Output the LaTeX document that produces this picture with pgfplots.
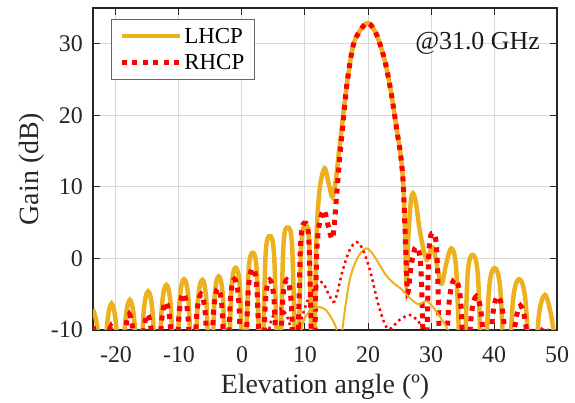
\documentclass[border=0pt]{standalone}
\usepackage{fontspec}
\setmainfont{Liberation Serif}
\usepackage{pgfplots}
\pgfplotsset{compat=1.18}
\definecolor{morange}{rgb}{0.929,0.694,0.125}
\definecolor{axgray}{rgb}{0.15,0.15,0.15}
\begin{document}
\begin{tikzpicture}
\begin{axis}[
  name=ax,
  scale only axis,
  width=464bp, height=322bp,
  xmin=-23.65, xmax=50, ymin=-10, ymax=35,
  xtick={-20,-10,0,10,20,30,40,50},
  ytick={-10,0,10,20,30},
  tick align=inside,
  major tick length=7bp,
  axis line style={draw=axgray, line width=1.2bp},
  every tick/.style={draw=axgray, line width=1bp},
  grid=major,
  major grid style={draw=gray!30, line width=1bp},
  /pgf/number format/assume math mode=true,
  ticklabel style={font=\fontsize{24}{26}\selectfont, text=black!85},
  xticklabel style={anchor=base, inner sep=0pt, yshift=-32bp},
  yticklabel style={anchor=east, inner sep=0pt, xshift=-10bp},
  every axis x label/.style={at={(rel axis cs:0.5,0)}, anchor=base, yshift=-63bp, font=\fontsize{28}{30}\selectfont, text=black!85},
  every axis y label/.style={at={(rel axis cs:0,0.5)}, anchor=center, rotate=90, yshift=61bp, font=\fontsize{28}{30}\selectfont, text=black!85},
  xlabel={Elevation angle (º)},
  ylabel={Gain (dB)},
  legend style={at={(0.0388,0.966)}, anchor=north west, draw=black!60, line width=0.8bp, fill=white,
    font=\fontsize{23}{25}\selectfont, inner xsep=8bp, inner ysep=6.5bp, row sep=6bp, cells={anchor=west}},
  legend image code/.code={\draw[#1] (0bp,0bp) -- (58bp,0bp);},
  legend cell align=left,
]
% LHCP thick
\addplot[morange, line width=4.5bp, smooth, tension=0.5] coordinates {
(-23.65,-7.1) (-22.9,-10.1) (-22.15,-20)
(-21.42,-9.3) (-20.7,-6.3) (-19.98,-9.3) (-19.25,-20)
(-18.52,-8.8) (-17.8,-5.8) (-17.08,-8.8) (-16.35,-20)
(-15.62,-7.6) (-14.9,-4.6) (-14.18,-7.6) (-13.45,-20)
(-12.72,-6.7) (-12.0,-3.7) (-11.3,-6.7) (-10.6,-20)
(-9.9,-5.9) (-9.2,-2.9) (-8.48,-5.9) (-7.75,-20)
(-7.0,-6.0) (-6.3,-3.0) (-5.65,-6.0) (-5.0,-20)
(-4.35,-5.5) (-3.7,-2.5) (-3.02,-5.5) (-2.35,-20)
(-1.68,-4.3) (-1.0,-1.3) (-0.32,-4.3) (0.35,-20)
(1.02,-2.2) (1.7,0.8) (2.38,-2.2) (3.05,-20)
(3.72,0.1) (4.4,3.1) (5.12,0.1) (5.85,-20)
(6.55,1.3) (7.25,4.3) (7.98,1.3) (8.7,-20)
(9.4,1.6) (10.1,4.6) (10.7,1.6) (11.3,-20)
(11.8,2) (12.3,9.5) (13.1,12.6) (13.8,10.3) (14.35,8.6) (14.9,11) (15.4,15) (15.8,17.9)
(16.6,24) (17.6,29.6) (18.7,31.8) (20,32.9) (21.3,31.4) (22.65,27.7) (23.7,23.0)
(24.6,17.8) (25.2,14.3) (25.6,10.3) (25.9,3.5) (26.1,-3.5) (26.4,3) (26.8,8) (27.15,9.1)
(27.6,7.8) (28.3,3.5) (29.3,-0.2) (30.3,1.5) (31.6,-3.5) (32.4,-0.8) (33.2,1.4) (34.0,-1.6) (35.0,-20)
(35.8,-2.5) (36.6,0.5) (37.45,-2.5) (38.3,-20)
(39.2,-4.35) (40.1,-1.35) (41.0,-4.35) (42.0,-20)
(43.0,-5.9) (44.0,-2.9) (45.0,-5.9) (46.1,-20)
(47.1,-8.1) (48.1,-5.1) (49.1,-8.1) (50,-14)
};
\addlegendentry{LHCP}
% RHCP thick
\addplot[red, line width=5bp, dash pattern=on 5bp off 5.5bp, smooth, tension=0.5] coordinates {
(-23.65,-9.5) (-22.9,-12.5) (-22.2,-20)
(-21.5,-12.5) (-20.8,-9.5) (-20.1,-12.5) (-19.35,-20)
(-18.6,-10.8) (-17.9,-7.8) (-17.2,-10.8) (-16.45,-20)
(-15.7,-10.8) (-15.0,-7.8) (-14.3,-10.8) (-13.55,-20)
(-12.8,-9.1) (-12.1,-6.1) (-11.4,-9.1) (-10.7,-20)
(-10.0,-7.9) (-9.3,-4.9) (-8.6,-7.9) (-7.9,-20)
(-7.2,-8.0) (-6.5,-5.0) (-5.8,-8.0) (-5.15,-20)
(-4.5,-7.2) (-3.8,-4.2) (-3.15,-7.2) (-2.5,-20)
(-1.85,-5.9) (-1.2,-2.9) (-0.52,-5.9) (0.2,-20)
(1.0,-4.4) (1.7,-1.4) (2.38,-4.4) (3.05,-20)
(3.72,-6.0) (4.4,-3.0) (5.1,-6.0) (5.8,-20)
(6.45,-6.0) (7.1,-3.0) (7.8,-6.0) (8.55,-20)
(9.3,1.9) (10.0,4.9) (10.65,1.9) (11.3,-20)
(11.9,1.5) (12.9,6.7) (13.7,4.5) (14.4,2.8) (15.0,8.6) (15.5,14) (16.0,18.5)
(16.6,24) (17.6,29.6) (18.7,31.8) (20,32.9) (21.3,31.4) (22.65,27.7) (23.7,23.0)
(24.6,17.8) (25.2,14.3) (25.6,10.3) (26.0,1) (26.3,-4.8) (26.9,-0.7) (27.6,1.6) (28.4,-1.4) (29.1,-20)
(29.65,0.5) (30.3,3.5) (30.95,0.5) (31.7,-20)
(32.9,-5.9) (33.8,-2.9) (34.7,-5.9) (35.5,-20)
(36.35,-8.3) (37.2,-5.3) (38.05,-8.3) (38.9,-20)
(39.75,-8.3) (40.6,-5.3) (41.5,-8.3) (42.4,-20)
(43.3,-9.6) (44.2,-6.6) (45.1,-9.6) (46.1,-20)
(47.1,-12.5) (48.0,-9.5) (48.9,-12.5) (50,-20)
};
\addlegendentry{RHCP}
% LHCP thin
\addplot[morange, line width=2bp, smooth, tension=0.5, forget plot] coordinates {
(9.0,-14) (9.6,-9.2) (10.5,-7.6) (11.3,-7.0) (12.3,-6.8) (13.3,-7.2) (14.3,-8.5) (15.1,-10.3) (15.55,-15)
(16.0,-9.5) (17.1,-3.0) (18.4,0.2) (19.7,1.4) (20.6,0.8) (21.5,-0.4) (22.9,-2.4) (24.0,-3.4)
(25.3,-4.3) (26.6,-5.5) (28.0,-6.4) (29.4,-6.0) (30.9,-7.5) (32.7,-10) (33.3,-12)
};
% RHCP thin
\addplot[red, line width=2.5bp, dash pattern=on 2.5bp off 3.5bp, smooth, tension=0.5, forget plot] coordinates {
(3.5,-14) (4.6,-8.8) (5.8,-7.0) (7.0,-7.8) (8.0,-10.5) (8.3,-11.5) (9.2,-9.1) (10.7,-5.3) (12.6,-3.3)
(13.7,-4.9) (14.7,-6.0) (16.0,-1.6) (17.1,1.2) (18.2,2.3) (19.2,1.2) (20.3,-1.6) (21.6,-6.3)
(22.65,-9.1) (23.4,-9.9) (25.0,-8.6) (26.6,-7.9) (27.8,-8.6) (28.7,-9.6) (30.0,-10.1) (31.3,-10.3) (32,-12)
};
\node[anchor=base east, font=\fontsize{26}{28}\selectfont, text=black!90, inner sep=0pt] at (rel axis cs:0.9634,0.8696) {@31.0 GHz};
\end{axis}
\path ([shift={(-93bp,-73bp)}]ax.south west) rectangle ([shift={(18bp,8bp)}]ax.north east);
\end{tikzpicture}
\end{document}
